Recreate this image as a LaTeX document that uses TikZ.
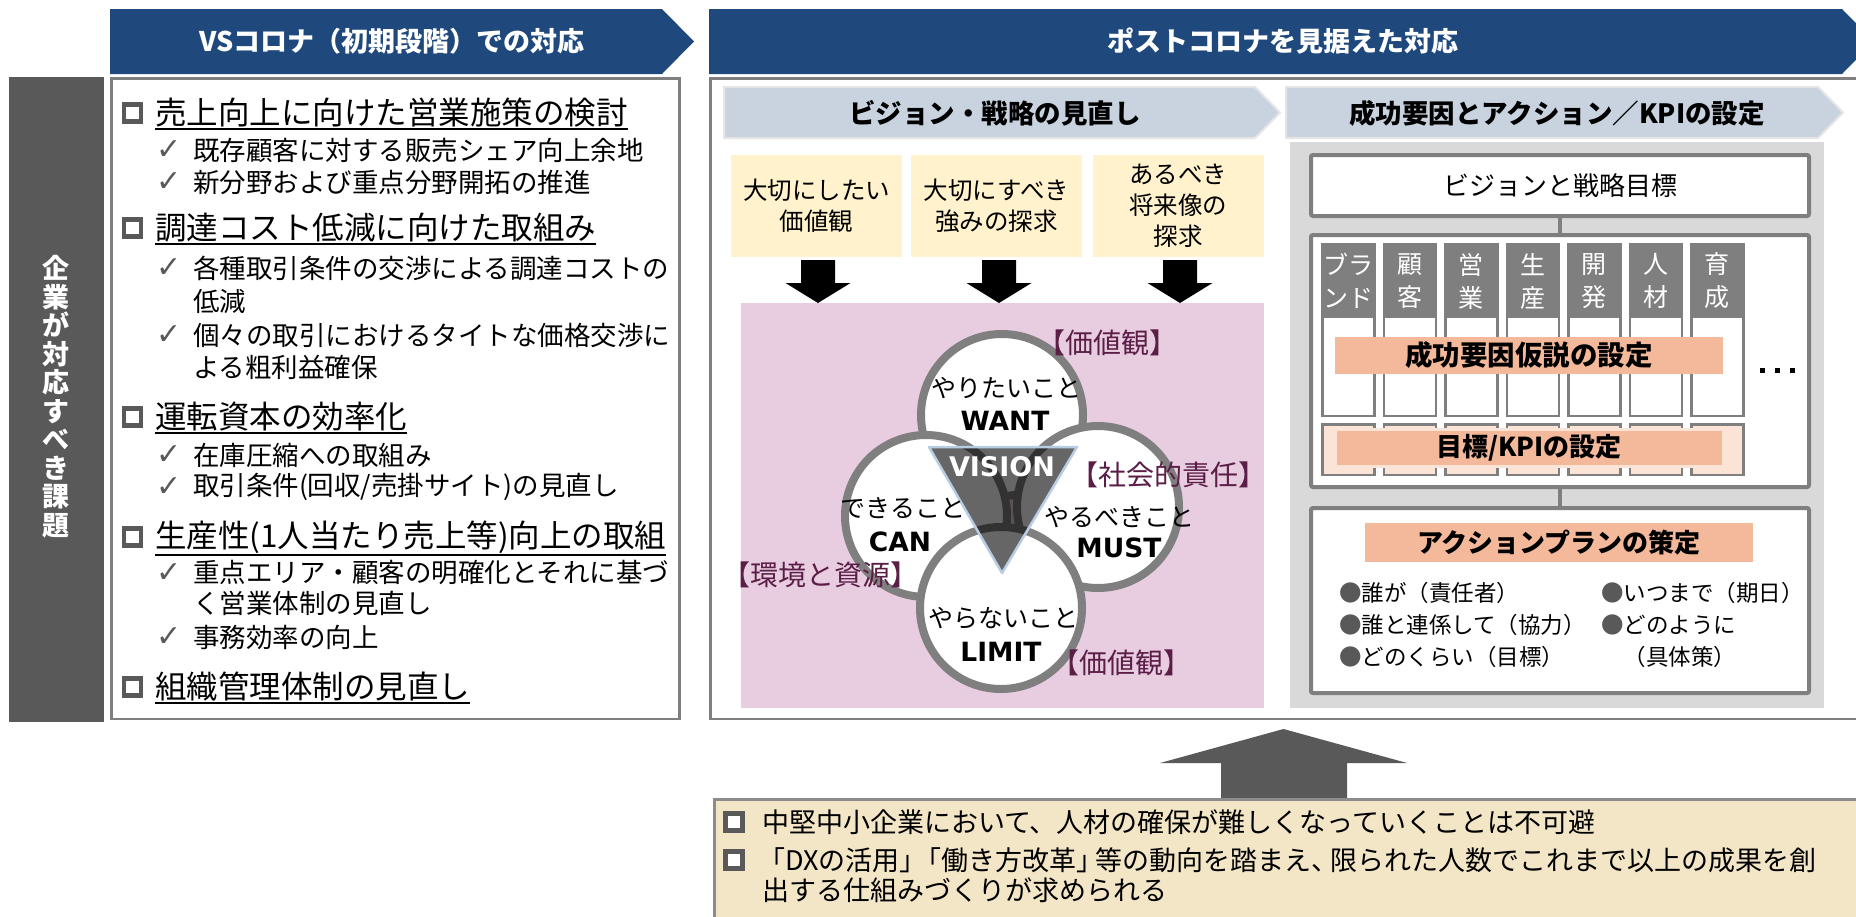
\documentclass[tikz,border=0pt]{standalone}
\usepackage{fontspec}
\setmainfont{Noto Sans CJK JP}
\newfontfamily\dvsans{DejaVu Sans}
\usetikzlibrary{calc}
\definecolor{navy}{RGB}{31,73,125}
\definecolor{dgray}{RGB}{89,89,89}
\definecolor{mgray}{RGB}{127,127,127}
\definecolor{lgray}{RGB}{217,217,217}
\definecolor{bgray}{RGB}{140,140,140}
\definecolor{steel}{RGB}{200,211,223}
\definecolor{peach}{RGB}{244,185,155}
\definecolor{lpeach}{RGB}{251,228,214}
\definecolor{lyellow}{RGB}{255,242,204}
\definecolor{pinkbg}{RGB}{232,204,224}
\definecolor{plum}{RGB}{91,30,70}
\definecolor{beige}{RGB}{242,230,198}
\definecolor{tribord}{RGB}{184,204,228}
\newcommand{\fsz}[2]{\fontsize{#1}{#2}\selectfont}
\begin{document}
\begin{tikzpicture}[x=1pt,y=-1pt,
  every node/.style={inner sep=0pt,outer sep=0pt},
  hd/.style={anchor=west,font=\fsz{31.5}{36}},
  sb/.style={anchor=west,font=\fsz{26.5}{30}},
  ck/.style={anchor=west,font=\dvsans\fsz{30}{32},text=dgray},
  cbox/.style={draw=dgray,line width=4.5,minimum size=17,fill=white},
  bn/.style={font=\bfseries\fsz{27}{30},text=white},
  sbn/.style={font=\bfseries\fsz{26.5}{30},text=black},
  ybox/.style={fill=lyellow,minimum width=171,minimum height=102,align=center,font=\fsz{24.5}{31}},
  venn/.style={circle,draw=mgray,line width=8,fill=white,minimum size=162},
  vl/.style={font=\fsz{25}{28}},
  vb/.style={font=\dvsans\bfseries\fsz{26.5}{30}},
  pl/.style={font=\fsz{28}{30},text=plum},
  wbox/.style={draw=mgray,line width=4,fill=white,rounded corners=2,minimum width=498},
  bar/.style={fill=peach,minimum width=388,minimum height=37,font=\bfseries\fsz{26}{30}},
  bul/.style={anchor=west,font=\fsz{22.5}{26}},
  bt/.style={anchor=west,font=\fsz{27}{30}},
  uline/.style={line width=1.8}
]
\useasboundingbox (0,0) rectangle (1856,916);
\fill[white] (0,0) rectangle (1856,916);

% ===== top banners
\fill[navy] (110,9) -- (662,9) -- (694,41.5) -- (662,74) -- (110,74) -- cycle;
\node[bn] (ban1) at (392,41.5) {VSコロナ（初期段階）での対応};
\fill[navy] (709,9) -- (1842,9) -- (1874,41.5) -- (1842,74) -- (709,74) -- cycle;
\node[bn] (ban2) at (1283,41.5) {ポストコロナを見据えた対応};

% ===== left dark bar
\fill[dgray] (9,77) rectangle (104,722);
\node[font=\bfseries\fsz{27}{28.5},text=white,align=center] (vtxt) at (56,397)
  {企\\業\\が\\対\\応\\す\\べ\\き\\課\\題};

% ===== left box
\draw[mgray,line width=2.5,fill=white] (111.5,78.5) rectangle (679.5,719);

\node[cbox] (cb1) at (132.5,113) {};
\node[hd] (h1) at (155,113) {売上向上に向けた営業施策の検討};
\node[ck] (k11) at (156,150) {✓};
\node[sb] (s11) at (193,150) {既存顧客に対する販売シェア向上余地};
\node[ck] (k12) at (156,182) {✓};
\node[sb] (s12) at (193,182) {新分野および重点分野開拓の推進};

\node[cbox] (cb2) at (132.5,228) {};
\node[hd] (h2) at (155,228) {調達コスト低減に向けた取組み};
\node[ck] (k21) at (156,268) {✓};
\node[sb] (s21) at (193,268) {各種取引条件の交渉による調達コストの};
\node[sb] (s21b) at (193,302) {低減};
\node[ck] (k22) at (156,335) {✓};
\node[sb] (s22) at (193,335) {個々の取引におけるタイトな価格交渉に};
\node[sb] (s22b) at (193,367) {よる粗利益確保};

\node[cbox] (cb3) at (132.5,417) {};
\node[hd] (h3) at (155,417) {運転資本の効率化};
\node[ck] (k31) at (156,455) {✓};
\node[sb] (s31) at (193,455) {在庫圧縮への取組み};
\node[ck] (k32) at (156,487) {✓};
\node[sb] (s32) at (193,487) {取引条件(回収/売掛サイト)の見直し};

\node[cbox] (cb4) at (132.5,537) {};
\node[hd] (h4) at (155,537) {生産性(1人当たり売上等)向上の取組};
\node[ck] (k41) at (156,573) {✓};
\node[sb] (s41) at (193,573) {重点エリア・顧客の明確化とそれに基づ};
\node[sb] (s41b) at (193,603) {く営業体制の見直し};
\node[ck] (k42) at (156,637) {✓};
\node[sb] (s42) at (193,637) {事務効率の向上};

\node[cbox] (cb5) at (132.5,687) {};
\node[hd] (h5) at (155,687) {組織管理体制の見直し};

\foreach \h in {h1,h2,h3,h4,h5}
  \draw[uline] ([yshift=-1.5pt]\h.south west) -- ([yshift=-1.5pt]\h.south east);

% ===== right box frame
\draw[mgray,line width=2.5] (1870,78.5) -- (710.5,78.5) -- (710.5,719) -- (1870,719);

% sub banners
\draw[white!90!black,line width=2,fill=steel] (724,87) -- (1255,87) -- (1280,112.5) -- (1255,138) -- (724,138) -- cycle;
\node[sbn] (sb1) at (995,113) {ビジョン・戦略の見直し};
\draw[white!90!black,line width=2,fill=steel] (1286,87) -- (1818,87) -- (1843,112.5) -- (1818,138) -- (1286,138) -- cycle;
\node[sbn] (sb2) at (1557,113) {成功要因とアクション／KPIの設定};

% ===== vision panel
\node[ybox] (y1) at (816.5,206) {大切にしたい\\価値観};
\node[ybox] (y2) at (996.5,206) {大切にすべき\\強みの探求};
\node[ybox] (y3) at (1178,206) {あるべき\\将来像の\\探求};

\fill[pinkbg] (741,303) rectangle (1264,708);

\foreach \x in {818,999,1180}
  \fill[black] (\x-17,260) -- (\x+17,260) -- (\x+17,283) -- (\x+32.5,283) -- (\x,303) -- (\x-32.5,283) -- (\x-17,283) -- cycle;

\node[venn] (cw) at (1002,415) {};
\node[venn] (cc) at (926,516) {};
\node[venn] (cm) at (1098,507) {};
\node[venn] (cl) at (1001,608) {};

\fill[black,opacity=0.6] (929,447) -- (1077,447) -- (1002,573) -- cycle;
\draw[tribord,line width=2.5,line join=round] (929,447) -- (1077,447) -- (1002,573) -- cycle;
\node[font=\dvsans\bfseries\fsz{27}{30},text=white] (vis) at (1002,467) {VISION};

\node[vl] (t1) at (1006,388) {やりたいこと};
\node[vb] (t1b) at (1005,421) {WANT};
\node[vl] (t2) at (903,508) {できること};
\node[vb] (t2b) at (900,542) {CAN};
\node[vl] (t3) at (1119,517) {やるべきこと};
\node[vb] (t3b) at (1119,548) {MUST};
\node[vl] (t4) at (1003,618) {やらないこと};
\node[vb] (t4b) at (1001,652) {LIMIT};

\node[pl] (p1) at (1107,343) {【価値観】};
\node[pl] (p2) at (1168,475) {【社会的責任】};
\node[pl] (p3) at (820,575) {【環境と資源】};
\node[pl] (p4) at (1121,663) {【価値観】};

% ===== success factor panel
\fill[lgray] (1290,142) rectangle (1824,708);

\node[wbox,minimum height=61,font=\fsz{26}{30}] (ba) at (1560,185.5) {ビジョンと戦略目標};
\node[wbox,minimum height=252] (bb) at (1560,361) {};
\node[wbox,minimum height=185] (bc) at (1560,600.5) {};
\draw[mgray,line width=4] (ba.south) -- (bb.north);
\draw[mgray,line width=4] (bb.south) -- (bc.north);

\foreach \i/\lab in {0/{ブラ\\ンド},1/{顧\\客},2/{営\\業},3/{生\\産},4/{開\\発},5/{人\\材},6/{育\\成}} {
  \draw[mgray,line width=2.5,fill=white] (1322.25+61.5*\i,244) rectangle (1374.25+61.5*\i,416);
  \fill[mgray] (1321+61.5*\i,243) rectangle (1375.5+61.5*\i,318);
  \node[text=white,align=center,font=\fsz{25}{33}] (colh\i) at (1348.25+61.5*\i,281) {\lab};
  \draw[mgray,line width=2.5,fill=lpeach] (1322.25+61.5*\i,424.25) rectangle (1374.25+61.5*\i,475);
}

\node[bar,font=\bfseries\fsz{27.5}{30}] (bar1) at (1529,355.5) {成功要因仮説の設定};
\node[bar,draw=lpeach,line width=3] (bar2) at (1529,448) {目標/KPIの設定};
\node[bar,minimum height=39] (bar3) at (1559,542.5) {アクションプランの策定};

\foreach \x in {1762,1777,1792}
  \fill[black] (\x-2.5,367.5) rectangle (\x+2.5,372.5);

\node[bul] (b1) at (1339,593) {\textcolor{dgray}{●}誰が（責任者）};
\node[bul] (b2) at (1339,625) {\textcolor{dgray}{●}誰と連係して（協力）};
\node[bul] (b3) at (1339,657) {\textcolor{dgray}{●}どのくらい（目標）};
\node[bul] (b4) at (1601,593) {\textcolor{dgray}{●}いつまで（期日）};
\node[bul] (b5) at (1601,625) {\textcolor{dgray}{●}どのように};
\node[bul] (b6) at (1623.5,657) {（具体策）};

% ===== up arrow
\fill[dgray] (1221,799) -- (1221,763) -- (1160,763) -- (1283.5,729) -- (1407,763) -- (1347,763) -- (1347,799) -- cycle;

% ===== bottom box
\fill[beige] (714,799) rectangle (1870,930);
\draw[bgray,line width=3] (1870,799.5) -- (714.5,799.5) -- (714.5,930);
\node[cbox] (bx1) at (734,822) {};
\node[bt] (bt1) at (762,822) {中堅中小企業において、人材の確保が難しくなっていくことは不可避};
\node[cbox] (bx2) at (734,860) {};
\node[bt] (bt2) at (758,860) {「DXの活用」\kern-.45em「働き方改革」\kern-.3em 等の動向を踏まえ、\kern-.3em 限られた人数でこれまで以上の成果を創};
\node[bt] (bt3) at (762,890) {出する仕組みづくりが求められる};
\end{tikzpicture}
\end{document}
